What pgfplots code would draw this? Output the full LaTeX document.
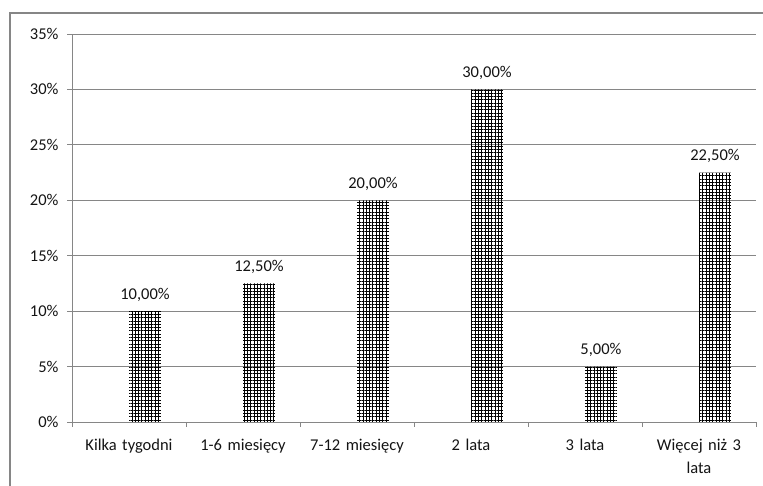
\documentclass[border=0pt]{standalone}
\usepackage{fontspec}
\setmainfont{Carlito}
\usepackage{pgfplots}
\pgfplotsset{compat=1.18}
\usetikzlibrary{patterns.meta}
\definecolor{axisgray}{HTML}{868686}
\definecolor{txt}{HTML}{141414}

\begin{document}
\begin{tikzpicture}[x=1pt,y=1pt]
\useasboundingbox (0,0) rectangle (763,486);
% chart frame
\draw[axisgray, line width=1.4pt] (10,-2) -- (10,473) -- (765,473);
\begin{axis}[
  at={(72pt,64pt)}, anchor=south west,
  scale only axis, width=684pt, height=388pt,
  xmin=-0.5, xmax=5.5, ymin=0, ymax=35,
  axis x line*=bottom, axis y line*=left,
  axis line style={axisgray, line width=0.8pt, -},
  tick align=outside,
  major tick length=5pt, minor tick length=5pt,
  tick style={axisgray, line width=0.8pt},
  xtick={0,...,5},
  xticklabels={Kilka tygodni, 1-6 miesięcy, 7-12 miesięcy, 2 lata, 3 lata, {Więcej niż 3\\lata}},
  major x tick style={draw=none},
  minor xtick={-0.5,0.5,...,5.5},
  ytick={0,5,...,35},
  yticklabels={0\%,5\%,10\%,15\%,20\%,25\%,30\%,35\%},
  ymajorgrids,
  grid style={axisgray, line width=0.8pt},
  /pgf/number format/assume math mode=true,
  tick label style={font=\fontsize{16.5}{23}\selectfont, text=txt},
  xticklabel style={text width=110pt, align=center, yshift=-9pt},
  yticklabel style={xshift=-5pt},
  ybar,
  nodes near coords={\pgfmathprintnumber[fixed,fixed zerofill,precision=2,use comma]{\pgfplotspointmeta}\%},
  every node near coord/.append style={font=\fontsize{16.5}{19}\selectfont, text=txt, anchor=base, yshift=12pt},
]
\addplot[ybar, bar width=0.28, bar shift=0.14, draw=none,
  pattern={Hatch[angle=0, distance=3.3pt, line width=0.9pt]}, pattern color=black]
  coordinates {(0,10) (1,12.5) (2,20) (3,30) (4,5) (5,22.5)};
\end{axis}
\end{tikzpicture}
\end{document}
